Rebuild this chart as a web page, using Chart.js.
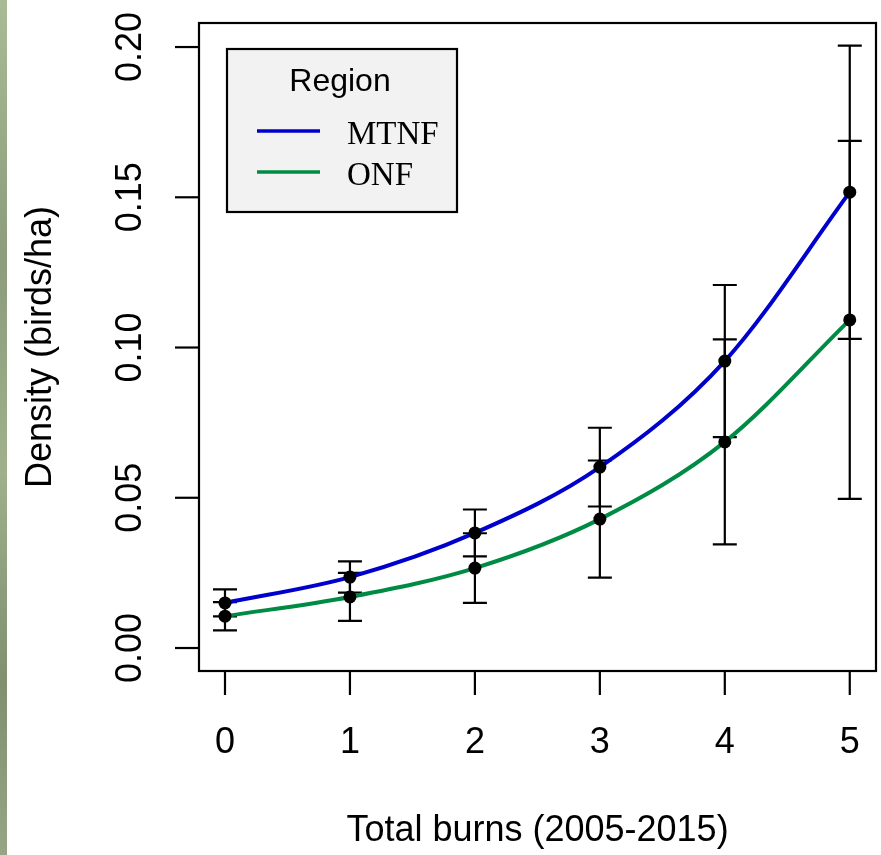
<!DOCTYPE html>
<html>
<head>
<meta charset="utf-8">
<title>Density by total burns</title>
<script src="https://cdn.jsdelivr.net/npm/chart.js@4.4.1/dist/chart.umd.min.js"></script>
<style>
  html, body { margin: 0; padding: 0; background: #ffffff; }
  #wrap { width: 881px; height: 855px; position: relative; }
  canvas { display: block; }
</style>
</head>
<body>
<div id="wrap"><canvas id="c" width="881" height="855"></canvas></div>
<script>
// Total number of burns between 2005 and 2015
const burns = [0, 1, 2, 3, 4, 5];

// Estimated density (birds/ha) and error-bar half widths per region
const mtnfDensity = [0.0150, 0.0236, 0.0383, 0.0602, 0.0955, 0.1517];
const mtnfError   = [0.0045, 0.0052, 0.0078, 0.0131, 0.0253, 0.0488];
const onfDensity  = [0.0106, 0.0170, 0.0266, 0.0429, 0.0686, 0.1092];
const onfError    = [0.0047, 0.0080, 0.0116, 0.0195, 0.0341, 0.0596];

const regionNames  = ['MTNF', 'ONF'];
const regionColors = ['#0000CD', '#008B45'];

// Axis tick labels
const xTicks = [0, 1, 2, 3, 4, 5];
const yTicks = [0.00, 0.05, 0.10, 0.15, 0.20];

const SANS = '"Liberation Sans", Arial, sans-serif';
const SERIF = '"Liberation Serif", "Times New Roman", serif';

function toPoints(ys) {
  return burns.map((x, i) => ({ x: x, y: ys[i] }));
}

const errors = [mtnfError, onfError];

// Base-graphics style frame, axes, error bars and legend
const basePlot = {
  id: 'basePlot',
  beforeDraw(chart) {
    const ctx = chart.ctx;
    ctx.save();
    ctx.fillStyle = '#ffffff';
    ctx.fillRect(0, 0, chart.width, chart.height);
    // textured strip on the far left edge
    const g = ctx.createLinearGradient(0, 0, 0, chart.height);
    g.addColorStop(0, '#a9bb95');
    g.addColorStop(0.3, '#8c9c7c');
    g.addColorStop(0.55, '#9fb08b');
    g.addColorStop(0.8, '#7f8f70');
    g.addColorStop(1, '#95a585');
    ctx.fillStyle = g;
    ctx.fillRect(0, 0, 7, chart.height);
    ctx.restore();
  },
  beforeDatasetsDraw(chart) {
    const ctx = chart.ctx;
    const xs = chart.scales.x, ys = chart.scales.y;
    ctx.save();
    ctx.strokeStyle = '#000000';
    ctx.lineWidth = 2.2;
    chart.data.datasets.forEach((ds, di) => {
      const err = errors[di];
      ds.data.forEach((p, i) => {
        const px = xs.getPixelForValue(p.x);
        const yLo = ys.getPixelForValue(p.y - err[i]);
        const yHi = ys.getPixelForValue(p.y + err[i]);
        const cap = 12;
        ctx.beginPath();
        ctx.moveTo(px, yLo); ctx.lineTo(px, yHi);
        ctx.moveTo(px - cap, yLo); ctx.lineTo(px + cap, yLo);
        ctx.moveTo(px - cap, yHi); ctx.lineTo(px + cap, yHi);
        ctx.stroke();
      });
    });
    ctx.restore();
  },
  afterDraw(chart) {
    const ctx = chart.ctx;
    const a = chart.chartArea;
    const xs = chart.scales.x, ys = chart.scales.y;
    ctx.save();
    ctx.strokeStyle = '#000000';
    ctx.fillStyle = '#000000';
    ctx.lineWidth = 2.2;

    // plot frame
    ctx.strokeRect(a.left, a.top, a.right - a.left, a.bottom - a.top);

    const tickLen = 24;
    // x axis ticks and labels
    ctx.font = '36px ' + SANS;
    ctx.textAlign = 'center';
    ctx.textBaseline = 'middle';
    xTicks.forEach(v => {
      const px = xs.getPixelForValue(v);
      ctx.beginPath();
      ctx.moveTo(px, a.bottom);
      ctx.lineTo(px, a.bottom + tickLen);
      ctx.stroke();
      ctx.fillText(String(v), px, 743);
    });

    // y axis ticks and rotated labels
    yTicks.forEach(v => {
      const py = ys.getPixelForValue(v);
      ctx.beginPath();
      ctx.moveTo(a.left, py);
      ctx.lineTo(a.left - tickLen, py);
      ctx.stroke();
      ctx.save();
      ctx.translate(131, py);
      ctx.rotate(-Math.PI / 2);
      ctx.fillText(v.toFixed(2), 0, 0);
      ctx.restore();
    });

    // axis titles
    ctx.fillText('Total burns (2005-2015)', (a.left + a.right) / 2, 831);
    ctx.save();
    ctx.translate(41, (a.top + a.bottom) / 2);
    ctx.rotate(-Math.PI / 2);
    ctx.fillText('Density (birds/ha)', 0, 0);
    ctx.restore();

    // legend box
    const lx = 227, ly = 49, lw = 230, lh = 163;
    ctx.fillStyle = '#f2f2f2';
    ctx.fillRect(lx, ly, lw, lh);
    ctx.strokeRect(lx, ly, lw, lh);
    ctx.fillStyle = '#000000';
    ctx.font = '32px ' + SANS;
    ctx.textAlign = 'center';
    ctx.fillText('Region', 340, 82);
    const rows = [131, 172];
    ctx.font = '33px ' + SERIF;
    ctx.textAlign = 'left';
    chart.data.datasets.forEach((ds, i) => {
      ctx.strokeStyle = ds.borderColor;
      ctx.lineWidth = 3.5;
      ctx.beginPath();
      ctx.moveTo(257, rows[i]);
      ctx.lineTo(320, rows[i]);
      ctx.stroke();
      ctx.fillText(ds.label, 347, rows[i] + 4);
    });
    ctx.restore();
  }
};

new Chart(document.getElementById('c'), {
  type: 'line',
  data: {
    datasets: [
      {
        label: regionNames[0],
        data: toPoints(mtnfDensity),
        borderColor: regionColors[0],
        borderWidth: 4,
        cubicInterpolationMode: 'monotone',
        pointRadius: 6.5,
        pointBackgroundColor: '#000000',
        pointBorderWidth: 0,
        fill: false
      },
      {
        label: regionNames[1],
        data: toPoints(onfDensity),
        borderColor: regionColors[1],
        borderWidth: 4,
        cubicInterpolationMode: 'monotone',
        pointRadius: 6.5,
        pointBackgroundColor: '#000000',
        pointBorderWidth: 0,
        fill: false
      }
    ]
  },
  options: {
    responsive: false,
    animation: false,
    devicePixelRatio: 1,
    layout: { autoPadding: false, padding: { left: 199, top: 23, right: 5, bottom: 184 } },
    plugins: { legend: { display: false }, tooltip: { enabled: false } },
    scales: {
      x: { type: 'linear', display: false, min: -0.208, max: 5.21 },
      y: { type: 'linear', display: false, min: -0.00765, max: 0.208 }
    }
  },
  plugins: [basePlot]
});
</script>
</body>
</html>
